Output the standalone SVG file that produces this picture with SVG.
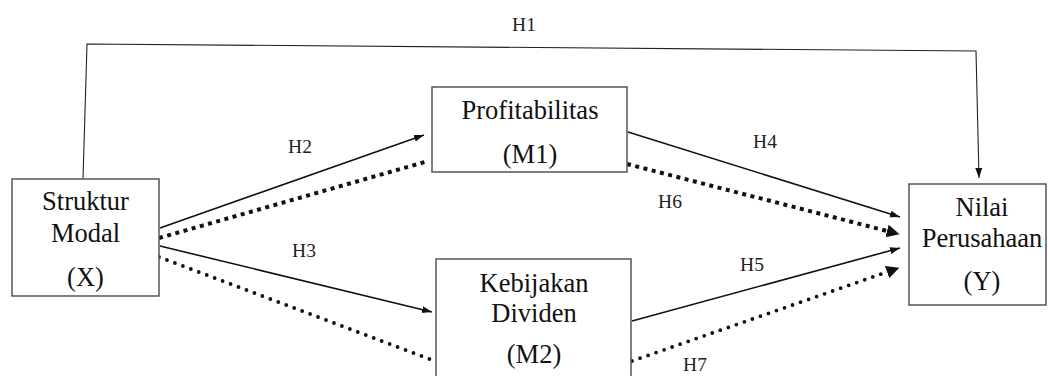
<svg xmlns="http://www.w3.org/2000/svg" width="1048" height="376" viewBox="0 0 1048 376">
<style>
.box{fill:#fff;stroke:#555;stroke-width:1.5}
.t{font-size:26.5px;fill:#111;text-anchor:middle}
.lb{font-size:19.5px;fill:#222;text-anchor:middle}
.sol{fill:none;stroke:#111;stroke-width:1.6}
.thin{fill:none;stroke:#222;stroke-width:1.1}
.sq{fill:none;stroke:#111;stroke-width:4;stroke-dasharray:4 4.5}
.rd{fill:none;stroke:#111;stroke-width:3.8;stroke-linecap:round;stroke-dasharray:0 8.5}
</style>
<defs>
<marker id="sa" markerUnits="userSpaceOnUse" markerWidth="11" markerHeight="8" refX="10" refY="4" orient="auto">
<path d="M0,0.5 L10,4 L0,7.5 z" fill="#111"/>
</marker>
<marker id="ba" markerUnits="userSpaceOnUse" markerWidth="14" markerHeight="14" refX="0" refY="6.5" orient="auto">
<path d="M0,0 L13,6.5 L0,13 z" fill="#111"/>
</marker>
</defs>
<rect width="1048" height="376" fill="#fff"/>
<g id="connectors">
<path class="thin" d="M83,179 L87,44 L976,51 L979,178" marker-end="url(#sa)"/>
<path class="sol" d="M160,228 L424,135" marker-end="url(#sa)"/>
<path class="sq" d="M159,238 L425,162"/>
<path class="sol" d="M160,246 L432,312" marker-end="url(#sa)"/>
<path class="rd" d="M159,257 L432,360"/>
<path class="sol" d="M628,132 L900,217" marker-end="url(#sa)"/>
<path class="sq" d="M627,164 L887,231" marker-end="url(#ba)"/>
<path class="sol" d="M632,321 L900,248" marker-end="url(#sa)"/>
<path class="rd" d="M632,361 L887,272" marker-end="url(#ba)"/>
<g font-family="Liberation Serif, DejaVu Serif, serif">
<text class="lb" x="524" y="31">H1</text>
<text class="lb" x="300" y="153">H2</text>
<text class="lb" x="304" y="257">H3</text>
<text class="lb" x="765" y="148">H4</text>
<text class="lb" x="752" y="271">H5</text>
<text class="lb" x="670" y="208">H6</text>
<text class="lb" x="695" y="371">H7</text>
</g>
</g>
<g id="node-x" font-family="Liberation Serif, DejaVu Serif, serif">
<rect class="box" x="12" y="179" width="147" height="117"/>
<text class="t" x="85.5" y="210">Struktur</text>
<text class="t" x="85.5" y="242">Modal</text>
<text class="t" x="85.5" y="286">(X)</text>
</g>
<g id="node-m1" font-family="Liberation Serif, DejaVu Serif, serif">
<rect class="box" x="432" y="87" width="195" height="85"/>
<text class="t" x="530" y="119">Profitabilitas</text>
<text class="t" x="530" y="163">(M1)</text>
</g>
<g id="node-m2" font-family="Liberation Serif, DejaVu Serif, serif">
<rect class="box" x="436" y="259" width="195" height="130"/>
<text class="t" x="534" y="292">Kebijakan</text>
<text class="t" x="534" y="322">Dividen</text>
<text class="t" x="534" y="363">(M2)</text>
</g>
<g id="node-y" font-family="Liberation Serif, DejaVu Serif, serif">
<rect class="box" x="909" y="184" width="137" height="121"/>
<text class="t" x="982" y="216">Nilai</text>
<text class="t" x="982" y="247">Perusahaan</text>
<text class="t" x="982" y="290">(Y)</text>
</g>
</svg>
